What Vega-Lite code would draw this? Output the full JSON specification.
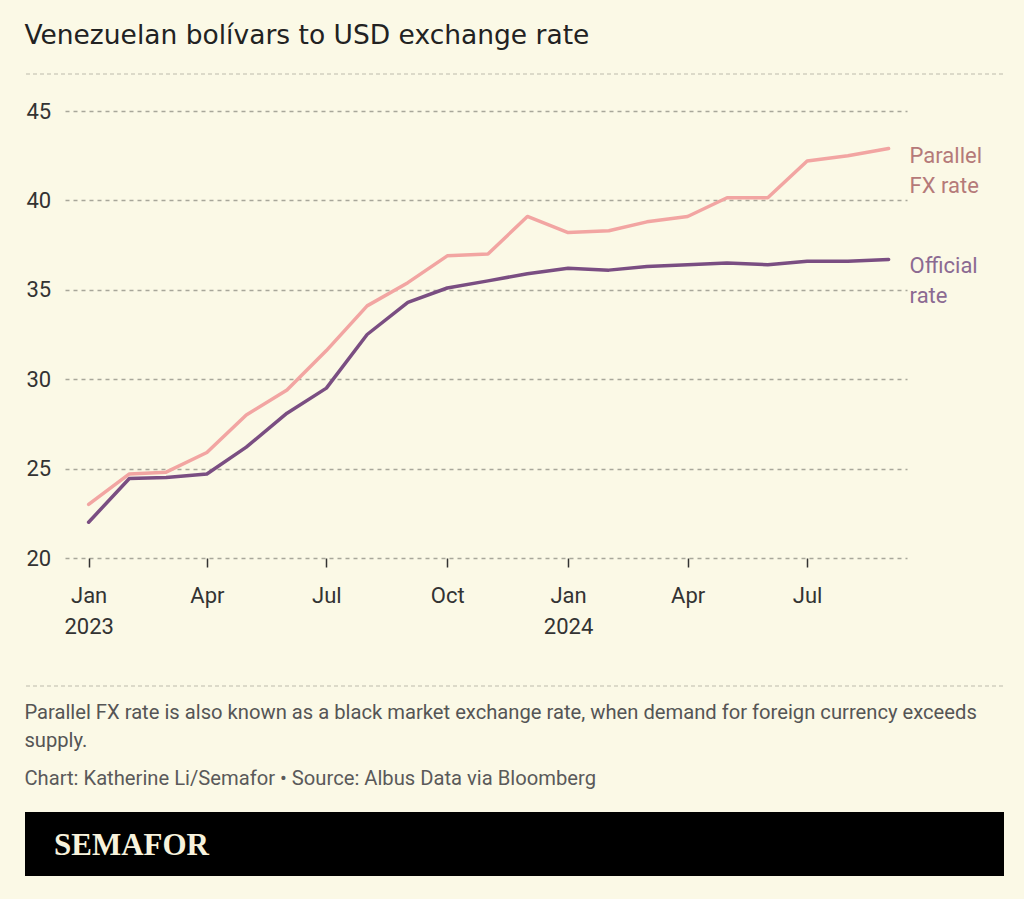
{
  "$schema": "https://vega.github.io/schema/vega-lite/v6.json",
  "background": "#fbf9e6",
  "padding": {"left": 24, "top": 22, "right": 22, "bottom": 23},
  "config": {
    "view": {"stroke": null},
    "font": "Roboto",
    "title": {"fontWeight": "normal"}
  },
  "datasets": {
    "rates": [
      {"date": "2023-01-01", "series": "Parallel FX rate", "value": 23.0},
      {"date": "2023-02-01", "series": "Parallel FX rate", "value": 24.7},
      {"date": "2023-03-01", "series": "Parallel FX rate", "value": 24.8},
      {"date": "2023-04-01", "series": "Parallel FX rate", "value": 25.9},
      {"date": "2023-05-01", "series": "Parallel FX rate", "value": 28.0},
      {"date": "2023-06-01", "series": "Parallel FX rate", "value": 29.4},
      {"date": "2023-07-01", "series": "Parallel FX rate", "value": 31.6},
      {"date": "2023-08-01", "series": "Parallel FX rate", "value": 34.1},
      {"date": "2023-09-01", "series": "Parallel FX rate", "value": 35.4},
      {"date": "2023-10-01", "series": "Parallel FX rate", "value": 36.9},
      {"date": "2023-11-01", "series": "Parallel FX rate", "value": 37.0},
      {"date": "2023-12-01", "series": "Parallel FX rate", "value": 39.1},
      {"date": "2024-01-01", "series": "Parallel FX rate", "value": 38.2},
      {"date": "2024-02-01", "series": "Parallel FX rate", "value": 38.3},
      {"date": "2024-03-01", "series": "Parallel FX rate", "value": 38.8},
      {"date": "2024-04-01", "series": "Parallel FX rate", "value": 39.1},
      {"date": "2024-05-01", "series": "Parallel FX rate", "value": 40.15},
      {"date": "2024-06-01", "series": "Parallel FX rate", "value": 40.15},
      {"date": "2024-07-01", "series": "Parallel FX rate", "value": 42.2},
      {"date": "2024-08-01", "series": "Parallel FX rate", "value": 42.5},
      {"date": "2024-09-01", "series": "Parallel FX rate", "value": 42.9},
      {"date": "2023-01-01", "series": "Official rate", "value": 22.0},
      {"date": "2023-02-01", "series": "Official rate", "value": 24.45},
      {"date": "2023-03-01", "series": "Official rate", "value": 24.5},
      {"date": "2023-04-01", "series": "Official rate", "value": 24.7},
      {"date": "2023-05-01", "series": "Official rate", "value": 26.2},
      {"date": "2023-06-01", "series": "Official rate", "value": 28.1},
      {"date": "2023-07-01", "series": "Official rate", "value": 29.5},
      {"date": "2023-08-01", "series": "Official rate", "value": 32.5},
      {"date": "2023-09-01", "series": "Official rate", "value": 34.3},
      {"date": "2023-10-01", "series": "Official rate", "value": 35.1},
      {"date": "2023-11-01", "series": "Official rate", "value": 35.5},
      {"date": "2023-12-01", "series": "Official rate", "value": 35.9},
      {"date": "2024-01-01", "series": "Official rate", "value": 36.2},
      {"date": "2024-02-01", "series": "Official rate", "value": 36.1},
      {"date": "2024-03-01", "series": "Official rate", "value": 36.3},
      {"date": "2024-04-01", "series": "Official rate", "value": 36.4},
      {"date": "2024-05-01", "series": "Official rate", "value": 36.5},
      {"date": "2024-06-01", "series": "Official rate", "value": 36.4},
      {"date": "2024-07-01", "series": "Official rate", "value": 36.6},
      {"date": "2024-08-01", "series": "Official rate", "value": 36.6},
      {"date": "2024-09-01", "series": "Official rate", "value": 36.7}
    ]
  },
  "concat": [
    {
      "concat": [
        {
          "width": 978,
          "height": 1,
          "data": {"values": [{}]},
          "mark": {"type": "rule", "color": "#bdbcab", "strokeDash": [4, 3], "strokeWidth": 1.2},
          "encoding": {
            "y": {"datum": 0, "type": "quantitative", "scale": {"domain": [0, 1]}, "axis": null}
          },
          "title": {
            "text": "Venezuelan bolívars to USD exchange rate",
            "anchor": "start",
            "orient": "top",
            "baseline": "alphabetic",
            "offset": 3,
            "font": "DejaVu Sans",
            "fontSize": 26.5,
            "fontWeight": "normal",
            "color": "#222222"
          }
        },
        {
          "hconcat": [
            {
              "width": 1,
              "height": 1,
              "data": {"values": [{}]},
              "mark": {"type": "text", "text": ""},
              "encoding": {}
            },
            {
              "width": 842,
              "height": 447,
              "data": {"name": "rates"},
              "layer": [
                {
                  "mark": {"type": "line", "strokeWidth": 3.5, "strokeJoin": "round", "strokeCap": "round"},
                  "encoding": {
                    "x": {
                      "field": "date",
                      "type": "temporal",
                      "scale": {
                        "type": "utc",
                        "nice": false,
                        "domain": [
                          {"year": 2022, "month": 12, "date": 14, "utc": true},
                          {"year": 2024, "month": 9, "date": 15, "utc": true}
                        ]
                      },
                      "axis": {
                        "title": null,
                        "domain": false,
                        "grid": false,
                        "values": [
                          {"year": 2023, "month": 1, "date": 1, "utc": true},
                          {"year": 2023, "month": 4, "date": 1, "utc": true},
                          {"year": 2023, "month": 7, "date": 1, "utc": true},
                          {"year": 2023, "month": 10, "date": 1, "utc": true},
                          {"year": 2024, "month": 1, "date": 1, "utc": true},
                          {"year": 2024, "month": 4, "date": 1, "utc": true},
                          {"year": 2024, "month": 7, "date": 1, "utc": true}
                        ],
                        "tickSize": 9,
                        "tickColor": "#333333",
                        "tickWidth": 1.5,
                        "labelPadding": 18,
                        "labelFont": "Roboto",
                        "labelFontSize": 22,
                        "labelColor": "#333333",
                        "labelLineHeight": 31,
                        "labelOverlap": false,
                        "labelFlush": false,
                        "labelExpr": "utcmonth(datum.value) == 0 ? [utcFormat(datum.value, '%b'), utcFormat(datum.value, '%Y')] : utcFormat(datum.value, '%b')"
                      }
                    },
                    "y": {
                      "field": "value",
                      "type": "quantitative",
                      "scale": {"domain": [20, 45], "nice": false, "zero": false},
                      "axis": {
                        "title": null,
                        "values": [20, 25, 30, 35, 40, 45],
                        "domain": false,
                        "ticks": false,
                        "labelAlign": "left",
                        "labelPadding": 39,
                        "labelFont": "Roboto",
                        "labelFontSize": 22,
                        "labelColor": "#333333",
                        "gridColor": "#a8a79a",
                        "gridDash": [4, 4],
                        "gridWidth": 1.3
                      }
                    },
                    "color": {
                      "field": "series",
                      "type": "nominal",
                      "scale": {"domain": ["Parallel FX rate", "Official rate"], "range": ["#f2a5a2", "#7a4e82"]},
                      "legend": null
                    }
                  }
                },
                {
                  "transform": [
                    {"filter": "utcyear(datum.date) == 2024 && utcmonth(datum.date) == 8"},
                    {"calculate": "datum.series == 'Parallel FX rate' ? 'Parallel\\nFX rate' : 'Official\\nrate'", "as": "label"}
                  ],
                  "mark": {"type": "text", "align": "left", "baseline": "alphabetic", "dx": 21, "dy": 14, "fontSize": 22, "lineHeight": 30, "lineBreak": "\n", "font": "Roboto"},
                  "encoding": {
                    "x": {"field": "date", "type": "temporal"},
                    "y": {"field": "value", "type": "quantitative"},
                    "text": {"field": "label"},
                    "color": {
                      "field": "series",
                      "type": "nominal",
                      "scale": {"domain": ["Parallel FX rate", "Official rate"], "range": ["#b57a79", "#8b6a92"]},
                      "legend": null
                    }
                  }
                }
              ],
              "resolve": {"scale": {"color": "independent"}}
            }
          ],
          "spacing": 0
        }
      ],
      "columns": 1,
      "spacing": 25
    },
    {
      "concat": [
        {
          "width": 978,
          "height": 1,
          "data": {"values": [{}]},
          "mark": {"type": "rule", "color": "#bdbcab", "strokeDash": [4, 3], "strokeWidth": 1.2},
          "encoding": {
            "y": {"datum": 1, "type": "quantitative", "scale": {"domain": [0, 1]}, "axis": null}
          },
          "title": {
            "text": ["Parallel FX rate is also known as a black market exchange rate, when demand for foreign currency exceeds", "supply."],
            "subtitle": "Chart: Katherine Li/Semafor • Source: Albus Data via Bloomberg",
            "orient": "bottom",
            "anchor": "start",
            "baseline": "alphabetic",
            "offset": 31.5,
            "font": "Roboto",
            "fontSize": 20.2,
            "fontWeight": "normal",
            "color": "#555555",
            "lineHeight": 28,
            "subtitleFont": "Roboto",
            "subtitleFontSize": 20.2,
            "subtitleColor": "#5a5a5a",
            "subtitlePadding": 18
          }
        },
        {
          "width": 979,
          "height": 64,
          "data": {"values": [{}]},
          "mark": {"type": "text", "text": ""},
          "encoding": {},
          "view": {"fill": "#000000", "stroke": null},
          "title": {
            "text": "SEMAFOR",
            "orient": "top",
            "anchor": "start",
            "baseline": "alphabetic",
            "offset": -74,
            "dx": 29,
            "font": "Liberation Serif",
            "fontWeight": "bold",
            "fontSize": 31,
            "color": "#f7f2dc"
          }
        }
      ],
      "columns": 1,
      "spacing": 23
    }
  ],
  "columns": 1,
  "spacing": 48
}
